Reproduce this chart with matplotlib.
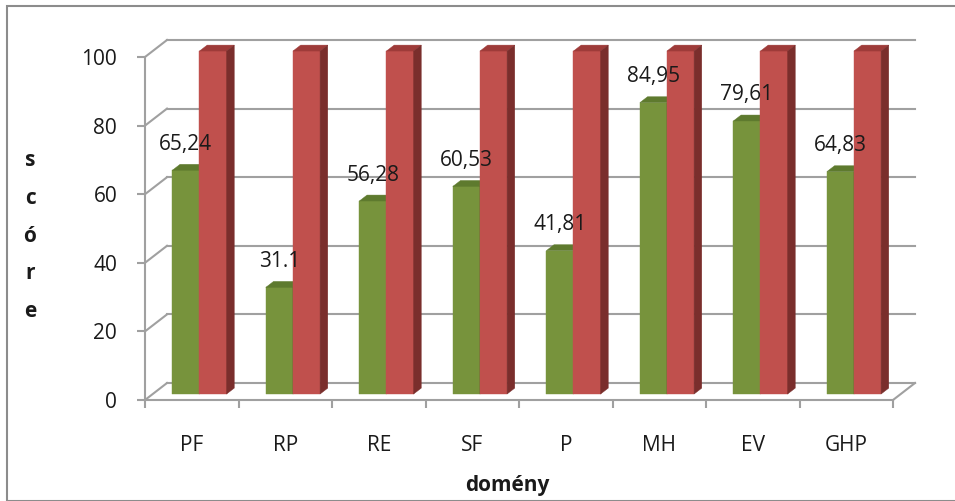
import matplotlib
matplotlib.use("Agg")
import matplotlib.pyplot as plt
from matplotlib.patches import Polygon, Rectangle
import numpy as np

plt.rcParams['font.family'] = ['Open Sans', 'DejaVu Sans']

domains = ["PF", "RP", "RE", "SF", "P", "MH", "EV", "GHP"]
measured = [65.24, 31.1, 56.28, 60.53, 41.81, 84.95, 79.61, 64.83]
reference = [100, 100, 100, 100, 100, 100, 100, 100]
measured_labels = ["65,24", "31.1", "56,28", "60,53", "41,81", "84,95", "79,61", "64,83"]
y_ticks = [0, 20, 40, 60, 80, 100]

# face colours: front, top, side
GREEN = ("#77933C", "#5E7A2E", "#4F6228")
RED = ("#C0504D", "#9E3B39", "#7A2E2C")
GRID = "#A0A0A0"

W, H = 955, 501
fig = plt.figure(figsize=(W / 100, H / 100), dpi=100)
ax = fig.add_axes([145 / W, 101 / H, 748 / W, 343 / H])
ax.set_xlim(-0.5, len(domains) - 0.5)
ax.set_ylim(0, 100)

# depth direction of the 3-D box, in pixels, converted to data units
p0 = ax.transData.transform((0, 0))
px_x = ax.transData.transform((1, 0))[0] - p0[0]
px_y = ax.transData.transform((0, 1))[1] - p0[1]
ddx, ddy = 22 / px_x, 17 / px_y

x_lo, x_hi = -0.5, len(domains) - 0.5

# back wall gridlines and left wall diagonals
for v in y_ticks:
    ax.plot([x_lo + ddx, x_hi + ddx], [v + ddy, v + ddy], color=GRID, lw=1.5,
            clip_on=False, zorder=1)
    ax.plot([x_lo, x_lo + ddx], [v, v + ddy], color=GRID, lw=1.5,
            clip_on=False, zorder=1)
# right edge of the floor
ax.plot([x_hi, x_hi + ddx], [0, ddy], color=GRID, lw=1.5, clip_on=False, zorder=1)


def box(x0, x1, v, cols, f=0.35, b=0.7):
    fx, fy = f * ddx, f * ddy
    bx, by = b * ddx, b * ddy
    front = [(x0 + fx, fy), (x1 + fx, fy), (x1 + fx, v + fy), (x0 + fx, v + fy)]
    top = [(x0 + fx, v + fy), (x1 + fx, v + fy), (x1 + bx, v + by), (x0 + bx, v + by)]
    side = [(x1 + fx, fy), (x1 + bx, by), (x1 + bx, v + by), (x1 + fx, v + fy)]
    for pts, c in zip((front, top, side), cols):
        ax.add_patch(Polygon(pts, closed=True, facecolor=c, edgecolor=c, lw=0.3,
                             clip_on=False, zorder=2))
    return fx, fy


bw = 0.29
for i, (g, r, lab) in enumerate(zip(measured, reference, measured_labels)):
    fx, fy = box(i - bw, i, g, GREEN)
    box(i, i + bw, r, RED)
    ax.annotate(lab, (i - bw / 2 + fx, g + fy), xytext=(0, 26),
                textcoords="offset pixels", ha="center", va="center",
                fontsize=15, color="#1a1a1a", zorder=3)

# front axes
for s in ("top", "right"):
    ax.spines[s].set_visible(False)
for s in ("left", "bottom"):
    ax.spines[s].set_color(GRID)
    ax.spines[s].set_linewidth(1.5)
ax.set_yticks(y_ticks)
ax.set_yticklabels([str(t) for t in y_ticks])
ax.tick_params(axis="y", length=6, width=1.5, color=GRID, pad=14,
               labelsize=15, labelcolor="#1a1a1a")
ax.set_xticks(np.arange(len(domains) + 1) - 0.5)
ax.set_xticklabels([])
ax.set_xticks(np.arange(len(domains)), minor=True)
ax.set_xticklabels(domains, minor=True)
ax.tick_params(axis="x", which="major", length=6, width=1.5, color=GRID)
ax.tick_params(axis="x", which="minor", length=0, pad=25, labelsize=15,
               labelcolor="#1a1a1a")
ax.patch.set_visible(False)

fig.text(30 / W, 1 - 236 / H, "s\nc\nó\nr\ne", ha="center", va="center",
         fontsize=15, fontweight="bold", linespacing=2.04, color="#1a1a1a")
fig.text(507 / W, 1 - 485 / H, "domény", ha="center", va="center",
         fontsize=15, fontweight="bold", color="#1a1a1a")

# chart area frame
fig.patches.append(Rectangle((7 / W, 0), 1.0, 1 - 6 / H, transform=fig.transFigure,
                             fill=False, edgecolor="#8C8C8C", lw=1.5))

fig.savefig("out.png", dpi=100)
